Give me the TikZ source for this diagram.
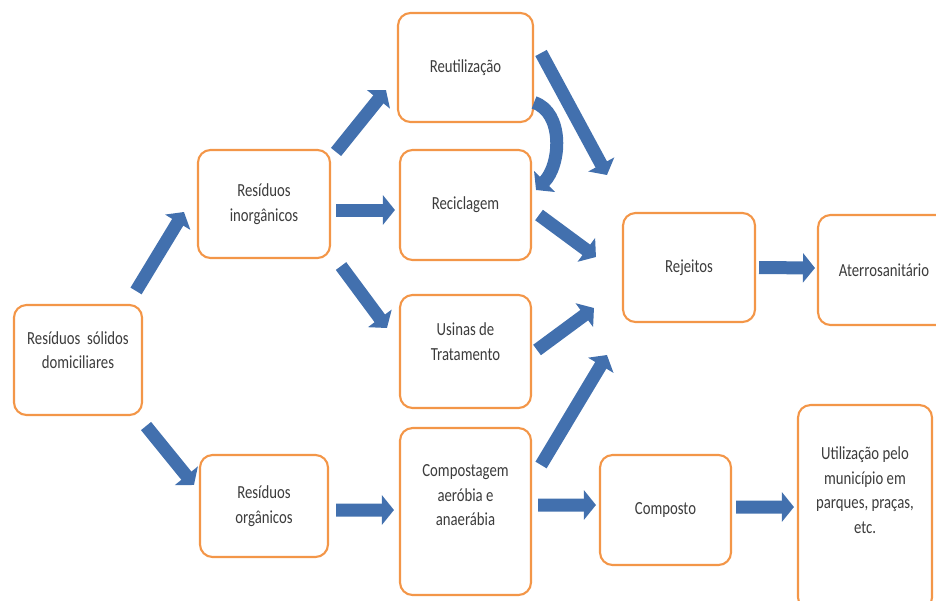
\documentclass[tikz,border=0pt]{standalone}
\usepackage{fontspec}
\setmainfont{Carlito}[FakeStretch=0.8]
\usepackage{tikz}
\usetikzlibrary{calc}
\usetikzlibrary{arrows.meta}

\definecolor{boxorange}{RGB}{243,150,72}
\definecolor{flowblue}{RGB}{66,112,174}
\definecolor{textgray}{RGB}{60,60,60}

\tikzset{
  box/.style={draw=boxorange, line width=1.2pt, rounded corners=0.25cm, fill=white,
    align=center, text=textgray, inner sep=2pt, font=\fontsize{10.5}{14}\selectfont},
  flow/.style={draw=flowblue, line width=0.26cm, -{Triangle[length=0.24cm, width=0.58cm]}}
}

\begin{document}
\begin{tikzpicture}[x=0.02cm, y=0.02cm]
	\useasboundingbox (0, 0) rectangle (936, 600);

	\node[box, minimum width=2.56cm, minimum height=2.2cm, text depth=0.4cm](rsd) at (78, 240){Resíduos\ \ sólidos\\domiciliares};
	\node[box, minimum width=2.64cm, minimum height=2.16cm](inorg) at (264, 396){Resíduos\\inorgânicos};
	\node[box, minimum width=2.56cm, minimum height=2.04cm](org) at (264, 94){Resíduos\\orgânicos};
	\node[box, minimum width=2.7cm, minimum height=2.18cm](reut) at (465.5, 532.5){Reutilização};
	\node[box, minimum width=2.62cm, minimum height=2.2cm](recic) at (465.5, 395){Reciclagem};
	\node[box, minimum width=2.62cm, minimum height=2.26cm, text depth=0.4cm](usinas) at (465.5, 248.5){Usinas de\\Tratamento};
	\node[box, minimum width=2.62cm, minimum height=3.34cm, text depth=0.65cm](compost) at (465.5, 88.5){Compostagem\\aeróbia e\\anaerábia};
	\node[box, minimum width=2.64cm, minimum height=2.18cm](rejeitos) at (689, 332.5){Rejeitos};
	\node[box, minimum width=2.64cm, minimum height=2.2cm](aterro) at (884, 330){Aterrosanitário};
	\node[box, minimum width=2.62cm, minimum height=2.2cm](composto) at (665.5, 90){Composto};
	\node[box, minimum width=2.68cm, minimum height=4.1cm, text depth=0.7cm](util) at (865, 92.5){Utilização pelo\\município em\\parques, praças,\\etc.};

	% inorganic / organic split
	\draw[flow] ($(rsd.north east)+(-7, 13)$)--($(inorg.west)+(-13, -8)$);
	\draw[flow] ($(rsd.south east)+(3, -10)$)--($(org.west)+(-5, 21)$);

	\draw[flow] ($(inorg.north east)+(5, -3)$)--($(reut.west)+(-11, -22.5)$);
	\draw[flow] ($(inorg.east)+(5, -6)$)--($(recic.west)+(-4, -5)$);
	\draw[flow] ($(inorg.south east)+(10, -7)$)--($(usinas.west)+(-12, 23.5)$);
	\draw[flow] ($(org.east)+(7, -4)$)--($(compost.west)+(-5, 1.5)$);

	% towards the rejects
	\draw[flow] ($(reut.east)+(7, 14.5)$)--($(rejeitos.west)+(-15, 92.5)$);
	\draw[flow] ($(recic.east)+(7, -10)$)--($(rejeitos.west)+(-26, 10.5)$);
	\draw[flow] ($(usinas.east)+(5, 1.5)$)--($(rejeitos.west)+(-28, -40.5)$);
	\draw[flow] ($(compost.east)+(9, 46.5)$)--($(rejeitos.west)+(-15, -87.5)$);
	\draw[flow] ($(reut.east)+(0, -35)$) .. controls +(30, -10) and +(25, 25) .. ($(recic.east)+(4, 15)$);

	\draw[flow] ($(rejeitos.east)+(3, 0)$)--($(aterro.west)+(-2, 2)$);
	\draw[flow] ($(compost.east)+(6, 6.5)$)--($(composto.west)+(-3, 5)$);
	\draw[flow] ($(composto.east)+(4, 3)$)--($(util.west)+(-3, 0.5)$);
\end{tikzpicture}
\end{document}
